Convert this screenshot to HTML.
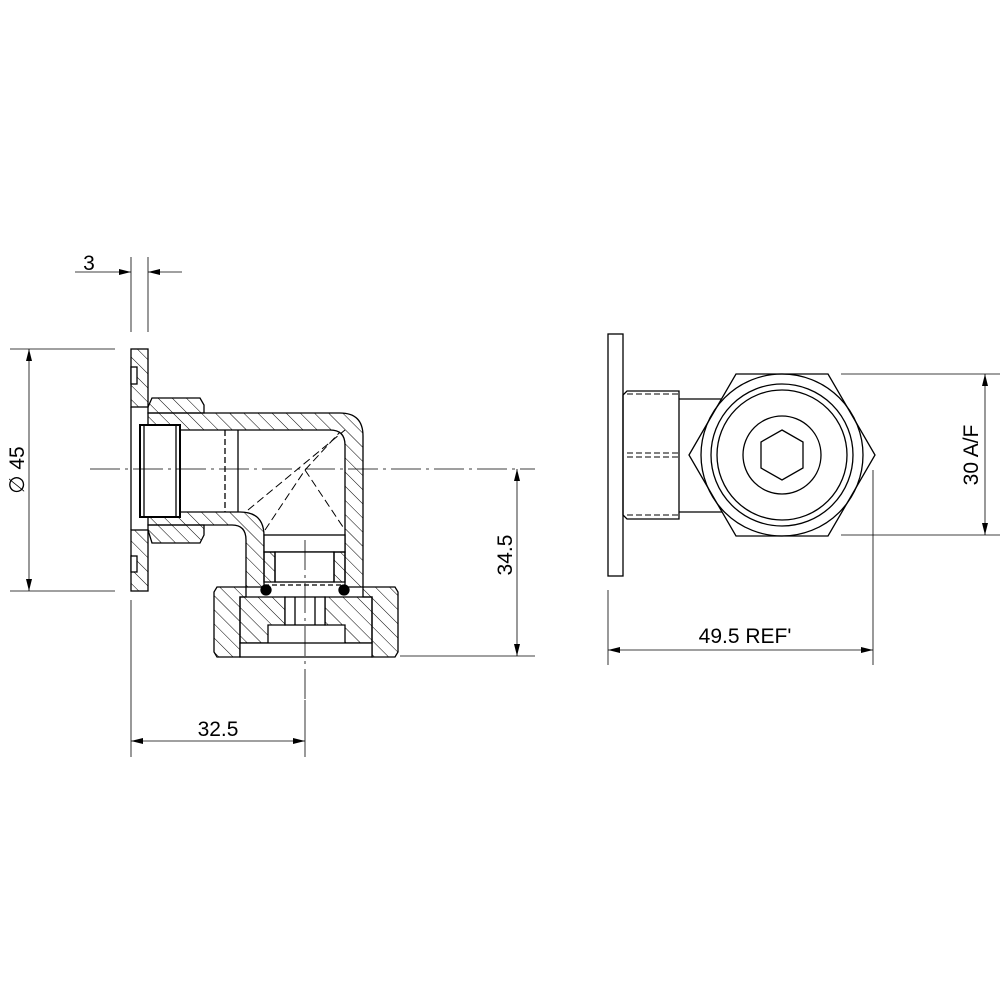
<!DOCTYPE html>
<html><head><style>html,body{margin:0;padding:0;background:#fff}svg{display:block}</style></head>
<body>
<svg width="1000" height="1000" viewBox="0 0 1000 1000" xmlns="http://www.w3.org/2000/svg" font-family="Liberation Sans, sans-serif">
<defs>
<pattern id="h" patternUnits="userSpaceOnUse" width="10" height="10" patternTransform="rotate(-45)">
<line x1="0" y1="0" x2="0" y2="10" stroke="#000" stroke-width="1"/>
</pattern>
<marker id="a" markerWidth="12" markerHeight="6" refX="12" refY="3" orient="auto" markerUnits="userSpaceOnUse">
<path d="M0,0 L12,3 L0,6 Z" fill="#000"/></marker>
<marker id="b" markerWidth="12" markerHeight="6" refX="0" refY="3" orient="auto" markerUnits="userSpaceOnUse">
<path d="M12,0 L0,3 L12,6 Z" fill="#000"/></marker>
</defs>
<g fill="none" stroke="#000" stroke-width="1.3">
<!-- flange left -->
<rect x="131" y="349" width="17" height="58" fill="url(#h)"/>
<rect x="131" y="530" width="17" height="61" fill="url(#h)"/>
<rect x="131" y="367" width="6" height="17" fill="#fff"/>
<rect x="131" y="556" width="6" height="16" fill="#fff"/>
<line x1="131" y1="407" x2="131" y2="530"/>
<!-- nut behind flange -->
<path d="M148,407 L152,398 L200,398 L204,405 L204,413 L148,413 Z" fill="url(#h)"/>
<path d="M148,525 L204,525 L204,535 L200,543 L152,543 L148,530 Z" fill="url(#h)"/>
<!-- elbow body hatched -->
<path d="M148,413 L340,413 Q363,413 363,436 L363,587 L345,587 L345,445 Q345,430 330,430 L148,430 Z" fill="url(#h)"/>
<path d="M148,512 L240,512 Q264,512 264,536 L264,587 L246,587 L246,540 Q246,525 232,525 L148,525 Z" fill="url(#h)"/>
<!-- insert -->
<rect x="140" y="425" width="40" height="92" fill="#fff" stroke-width="2"/>
<line x1="144" y1="425" x2="144" y2="517"/>
<line x1="176" y1="425" x2="176" y2="517"/>
<line x1="225" y1="430" x2="225" y2="512" stroke-dasharray="6,3"/>
<line x1="238" y1="430" x2="238" y2="512"/>
<!-- dashed internal -->
<g stroke-dasharray="8,4" stroke-width="1">
<line x1="248" y1="510" x2="345" y2="430"/>
<line x1="265" y1="530" x2="305" y2="470"/>
<line x1="305" y1="470" x2="345" y2="530"/>
<line x1="305" y1="470" x2="340" y2="432"/>
</g>
<!-- inner seat -->
<rect x="264" y="535" width="81" height="17" fill="#fff"/>
<rect x="275" y="552" width="59" height="30" fill="#fff"/>
<path d="M264,552 L275,552 L275,582 L264,582 Z M334,552 L345,552 L345,582 L334,582 Z" fill="url(#h)"/>
<line x1="264" y1="585" x2="345" y2="585" stroke-dasharray="5,3"/>
<circle cx="266" cy="590" r="5" fill="#000"/>
<circle cx="344" cy="590" r="5" fill="#000"/>
<!-- bottom nut -->
<path d="M217,587 L246,587 L246,597 L240,597 L240,657 L217,657 L214,652 L214,592 Z" fill="url(#h)"/>
<path d="M363,587 L395,587 L398,592 L398,652 L395,657 L372,657 L372,597 L363,597 Z" fill="url(#h)"/>
<path d="M240,597 L285,597 L285,625 L268,625 L268,643 L240,643 Z" fill="url(#h)"/>
<path d="M372,597 L325,597 L325,625 L345,625 L345,643 L372,643 Z" fill="url(#h)"/>
<rect x="285" y="597" width="40" height="28" fill="#fff"/>
<line x1="295" y1="597" x2="295" y2="625"/><line x1="315" y1="597" x2="315" y2="625"/>
<rect x="240" y="643" width="132" height="14" fill="#fff"/>
<!-- right view -->
<rect x="608" y="334" width="15" height="242"/>
<path d="M627,391 L679,391 L679,519 L627,519 L623,515 L623,395 Z"/>
<g stroke-dasharray="6,3" stroke-width="1"><line x1="627" y1="394" x2="679" y2="394"/><line x1="627" y1="453" x2="679" y2="453"/><line x1="627" y1="457" x2="679" y2="457"/><line x1="627" y1="515" x2="679" y2="515"/></g>
<line x1="679" y1="399" x2="722" y2="399"/><line x1="679" y1="512" x2="722" y2="512"/>
<polygon points="689,455 736,374 828,374 875,455 828,536 736,536" fill="#fff"/>
<circle cx="782" cy="455" r="81"/><circle cx="782" cy="455" r="71"/><circle cx="782" cy="455" r="65"/><circle cx="782" cy="455" r="39"/>
<polygon points="782,430 803,442 803,468 782,480 761,468 761,442"/>
</g>
<!-- centerlines -->
<g stroke="#000" stroke-width="0.8" fill="none">
<line x1="90" y1="469" x2="535" y2="469" stroke-dasharray="30,5,3,5"/>
<line x1="305" y1="540" x2="305" y2="700" stroke-dasharray="30,5,3,5"/>
<!-- dims -->
<line x1="131" y1="257" x2="131" y2="332"/><line x1="148" y1="257" x2="148" y2="332"/>
<line x1="75" y1="272" x2="131" y2="272" marker-end="url(#a)"/>
<line x1="182" y1="272" x2="148" y2="272" marker-end="url(#a)"/>
<line x1="10" y1="349" x2="115" y2="349"/><line x1="10" y1="591" x2="115" y2="591"/>
<line x1="29" y1="349" x2="29" y2="591" marker-start="url(#b)" marker-end="url(#a)"/>
<line x1="400" y1="656" x2="535" y2="656"/>
<line x1="517" y1="469" x2="517" y2="656" marker-start="url(#b)" marker-end="url(#a)"/>
<line x1="131" y1="600" x2="131" y2="757"/><line x1="305" y1="700" x2="305" y2="757"/>
<line x1="131" y1="741" x2="305" y2="741" marker-start="url(#b)" marker-end="url(#a)"/>
<line x1="608" y1="590" x2="608" y2="665"/><line x1="873" y1="470" x2="873" y2="665"/>
<line x1="608" y1="650" x2="873" y2="650" marker-start="url(#b)" marker-end="url(#a)"/>
<line x1="841" y1="374" x2="1000" y2="374"/><line x1="841" y1="535" x2="1000" y2="535"/>
<line x1="985" y1="374" x2="985" y2="535" marker-start="url(#b)" marker-end="url(#a)"/>
</g>
<g font-size="21" fill="#000">
<text x="89" y="270" text-anchor="middle">3</text>
<text x="218" y="736" text-anchor="middle">32.5</text>
<text x="745" y="643" text-anchor="middle">49.5  REF'</text>
<text transform="translate(24,470) rotate(-90)" text-anchor="middle">∅ 45</text>
<text transform="translate(512,555) rotate(-90)" text-anchor="middle">34.5</text>
<text transform="translate(978,455) rotate(-90)" text-anchor="middle">30 A/F</text>
</g>
</svg>
</body></html>
